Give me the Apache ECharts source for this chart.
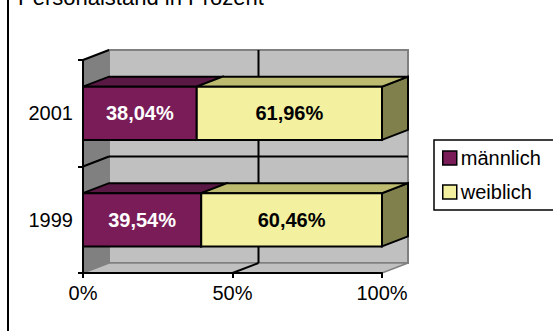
<!DOCTYPE html>
<html>
<head>
<meta charset="utf-8">
<script src="https://cdn.jsdelivr.net/npm/echarts@6/dist/echarts.min.js"></script>
<style>html,body{margin:0;padding:0;background:#fff;}#c{width:553px;height:331px;}</style>
</head>
<body>
<div id="c"></div>
<script>
// ---- data ----
const titleText = 'Personalstand in Prozent';
const categories = ['1999', '2001'];
const seriesNames = ['männlich', 'weiblich'];
const maleValues = [39.54, 38.04];
const femaleValues = [60.46, 61.96];
const xTickValues = [0, 50, 100];

// ---- styling ----
const FONT = 'Liberation Sans, Arial, sans-serif';
const DX = 26, DY = -10;
const maleColors = { front: '#7A1C58', top: '#5A1844', side: '#4A1238', text: '#ffffff' };
const femaleColors = { front: '#F3F0A0', top: '#BDBB6F', side: '#80804C', text: '#000000' };

const chart = echarts.init(document.getElementById('c'), null, { renderer: 'svg' });

function fmt(v) { return v.toFixed(2).replace('.', ',') + '%'; }

function wallsRender(params, api) {
  if (params.dataIndex !== 0) return;
  const cs = params.coordSys;
  const x0 = cs.x, y0 = cs.y, x1 = cs.x + cs.width, y1 = cs.y + cs.height;
  const band = api.size([0, 1])[1];
  const xMax = xTickValues[xTickValues.length - 1];
  const ch = [];
  ch.push({ type: 'rect', shape: { x: x0 + DX, y: y0 + DY, width: x1 - x0, height: y1 - y0 },
    style: { fill: '#C0C0C0', stroke: '#808080', lineWidth: 2 } });
  ch.push({ type: 'polygon', shape: { points: [[x0, y0], [x0 + DX, y0 + DY], [x0 + DX, y1 + DY], [x0, y1]] },
    style: { fill: '#808080', stroke: '#808080', lineWidth: 1 } });
  ch.push({ type: 'polygon', shape: { points: [[x0, y1], [x0 + DX, y1 + DY], [x1 + DX, y1 + DY], [x1, y1]] },
    style: { fill: '#C0C0C0', stroke: '#808080', lineWidth: 1.5 } });
  xTickValues.forEach(v => {
    if (v <= xTickValues[0] || v >= xMax) return;
    const xv = api.coord([v, 0])[0];
    ch.push({ type: 'line', shape: { x1: xv + DX, y1: y0 + DY, x2: xv + DX, y2: y1 + DY }, style: { stroke: '#000', lineWidth: 2 } });
    ch.push({ type: 'line', shape: { x1: xv, y1: y1, x2: xv + DX, y2: y1 + DY }, style: { stroke: '#000', lineWidth: 2 } });
  });
  for (let i = 0; i < categories.length - 1; i++) {
    const yb = api.coord([0, i])[1] - band / 2;
    ch.push({ type: 'line', shape: { x1: x0, y1: yb, x2: x0 + DX, y2: yb + DY }, style: { stroke: '#000', lineWidth: 2 } });
    ch.push({ type: 'line', shape: { x1: x0 + DX, y1: yb + DY, x2: x1 + DX, y2: yb + DY }, style: { stroke: '#000', lineWidth: 2 } });
  }
  ch.push({ type: 'line', shape: { x1: x0, y1: y0, x2: x0 + DX, y2: y0 + DY }, style: { stroke: '#000', lineWidth: 2 } });
  return { type: 'group', children: ch };
}

function barRender(colors) {
  return function (params, api) {
    const s = api.value(0), e = api.value(1), c = api.value(2), v = api.value(3);
    const p0 = api.coord([s, c]);
    const p1 = api.coord([e, c]);
    const bh = api.size([0, 1])[1] * 0.5;
    const yt = p0[1] - bh / 2, yb = p0[1] + bh / 2;
    const xa = p0[0], xb = p1[0];
    const border = { stroke: '#000', lineWidth: 2, lineJoin: 'miter' };
    return { type: 'group', children: [
      { type: 'polygon', shape: { points: [[xb, yt], [xb + DX, yt + DY], [xb + DX, yb + DY], [xb, yb]] },
        style: Object.assign({ fill: colors.side }, border) },
      { type: 'polygon', shape: { points: [[xa, yt], [xa + DX, yt + DY], [xb + DX, yt + DY], [xb, yt]] },
        style: Object.assign({ fill: colors.top }, border) },
      { type: 'rect', shape: { x: xa, y: yt, width: xb - xa, height: yb - yt },
        style: Object.assign({ fill: colors.front }, border) },
      { type: 'text', style: { text: fmt(v), x: (xa + xb) / 2, y: p0[1], align: 'center', verticalAlign: 'middle',
        fill: colors.text, fontSize: 20, fontWeight: 'bold', fontFamily: FONT } }
    ] };
  };
}

const maleData = categories.map((c, i) => [0, maleValues[i], i, maleValues[i]]);
const femaleData = categories.map((c, i) => [maleValues[i], maleValues[i] + femaleValues[i], i, femaleValues[i]]);

const option = {
  animation: false,
  backgroundColor: '#ffffff',
  title: {
    text: titleText, left: 18, top: -14, padding: 0,
    textStyle: { fontSize: 22, fontWeight: 'normal', color: '#000', fontFamily: FONT }
  },
  grid: { left: 83, right: 171, top: 60, bottom: 58 },
  xAxis: {
    type: 'value', min: 0, max: 100, interval: 50, z: 5,
    axisLine: { show: true, lineStyle: { color: '#000', width: 2 } },
    axisTick: { show: true, length: 5, lineStyle: { color: '#000', width: 2 } },
    axisLabel: { formatter: '{value}%', fontSize: 20, color: '#000', fontFamily: FONT, margin: 10 },
    splitLine: { show: false }
  },
  yAxis: {
    type: 'category', data: categories, z: 5,
    axisLine: { show: true, lineStyle: { color: '#000', width: 2 } },
    axisTick: { show: true, length: 5, lineStyle: { color: '#000', width: 2 } },
    axisLabel: { fontSize: 20, color: '#000', fontFamily: FONT, margin: 10 },
    splitLine: { show: false }
  },
  legend: {
    orient: 'vertical', left: 434, top: 140,
    padding: [8, 30, 8, 8], itemGap: 14, itemWidth: 14, itemHeight: 14,
    backgroundColor: '#fff', borderColor: '#000', borderWidth: 1.5, borderRadius: 0,
    textStyle: { fontSize: 20, color: '#000', fontFamily: FONT, lineHeight: 20, padding: [0, 0, 0, -1] },
    data: [
      { name: seriesNames[0], icon: 'rect', itemStyle: { color: maleColors.front, borderColor: '#000', borderWidth: 1.5 } },
      { name: seriesNames[1], icon: 'rect', itemStyle: { color: femaleColors.front, borderColor: '#000', borderWidth: 1.5 } }
    ]
  },
  graphic: [
    { type: 'rect', silent: true, z: 100, shape: { x: 8, y: -20, width: 700, height: 500 },
      style: { fill: 'none', stroke: '#000', lineWidth: 2 } }
  ],
  series: [
    { type: 'custom', name: '_walls', z: 1, silent: true, renderItem: wallsRender,
      data: [[0, 0, 0, 0]], encode: { x: 0, y: 2 } },
    { type: 'custom', name: seriesNames[0], z: 2, renderItem: barRender(maleColors),
      itemStyle: { color: maleColors.front }, data: maleData, encode: { x: [0, 1], y: 2 } },
    { type: 'custom', name: seriesNames[1], z: 3, renderItem: barRender(femaleColors),
      itemStyle: { color: femaleColors.front }, data: femaleData, encode: { x: [0, 1], y: 2 } }
  ]
};
chart.setOption(option);
</script>
</body>
</html>
